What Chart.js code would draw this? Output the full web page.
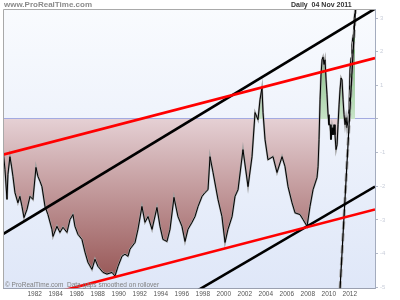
<!DOCTYPE html>
<html>
<head>
<meta charset="utf-8">
<script src="https://cdn.jsdelivr.net/npm/chart.js@4/dist/chart.umd.min.js"></script>
<style>
  html, body { margin: 0; padding: 0; background: #fff; }
  canvas { display: block; }
</style>
</head>
<body>
<canvas id="spreadChart" width="400" height="300"></canvas>
<script>
// daily series (year, value)
const years = [
  1978.29, 1978.48, 1978.67, 1978.76, 1978.95, 1979.10, 1979.24, 1979.43, 1979.71, 1979.90,
  1980.10, 1980.29, 1980.57, 1980.86, 1981.14, 1981.43, 1981.62, 1981.81, 1982.00, 1982.29,
  1982.57, 1982.95, 1983.05, 1983.43, 1983.71, 1984.00, 1984.38, 1984.67, 1984.95, 1985.14,
  1985.43, 1985.81, 1986.10, 1986.38, 1986.76, 1987.05, 1987.33, 1987.81, 1988.19, 1988.67,
  1988.95, 1989.24, 1989.62, 1989.90, 1990.19, 1990.38, 1990.86, 1991.14, 1991.52, 1991.81,
  1992.10, 1992.48, 1992.95, 1993.24, 1993.52, 1993.90, 1994.19, 1994.57, 1994.95, 1995.33,
  1995.62, 1995.90, 1996.29, 1996.57, 1996.86, 1997.24, 1997.52, 1997.81, 1998.00, 1998.29,
  1998.76, 1999.14, 1999.43, 1999.71, 2000.10, 2000.38, 2000.67, 2001.14, 2001.62, 2002.00,
  2002.29, 2002.57, 2002.76, 2002.95, 2003.05, 2003.24, 2003.52, 2004.00, 2004.38, 2004.86,
  2005.14, 2005.43, 2005.81, 2006.10, 2006.57, 2006.86, 2007.24, 2007.52, 2007.81, 2008.19,
  2008.29, 2008.38, 2008.48, 2008.57, 2008.67, 2008.76, 2008.86, 2008.95, 2009.05, 2009.14,
  2009.24, 2009.33, 2009.43, 2009.52, 2009.62, 2009.71, 2009.81, 2009.90, 2010.00, 2010.10,
  2010.19, 2010.29, 2010.38, 2010.48, 2010.57, 2010.67, 2010.76, 2010.86, 2010.95, 2011.05,
  2011.14, 2011.24, 2011.33, 2011.43, 2011.52, 2011.62, 2011.71, 2011.81
];
const values = [
  -0.91, -1.50, -2.39, -1.65, -1.12, -1.40, -1.71, -2.19, -2.49, -2.30,
  -2.60, -2.93, -2.69, -2.30, -2.39, -1.44, -1.71, -1.85, -2.01, -2.60,
  -2.84, -3.28, -3.49, -3.19, -3.37, -3.22, -3.37, -2.99, -2.84, -3.19,
  -3.43, -3.58, -3.96, -4.26, -4.47, -4.17, -4.38, -4.56, -4.61, -4.56,
  -4.67, -4.38, -4.08, -4.02, -4.08, -3.87, -3.67, -3.28, -2.60, -3.07,
  -2.90, -3.28, -2.63, -3.19, -3.58, -3.64, -3.28, -2.33, -2.90, -3.19,
  -3.64, -3.28, -3.07, -2.90, -2.60, -2.30, -2.19, -2.10, -1.12, -1.59,
  -2.39, -2.90, -3.67, -3.28, -2.90, -2.30, -2.10, -0.91, -2.01, -1.12,
  0.19, -0.02, 0.57, 0.93, 0.19, -0.61, -1.21, -1.12, -1.59, -1.12,
  -1.41, -2.01, -2.49, -2.79, -2.84, -2.99, -3.19, -2.60, -2.10, -1.74,
  -1.41, -0.61, 0.57, 1.31, 1.76, 1.84, 1.62, 1.76, 1.16, 0.72,
  0.13, -0.17, -0.17, -0.61, -0.26, -0.47, -0.17, -0.47, -0.91, -0.76,
  -0.17, 0.42, 0.87, 1.22, 1.16, 0.57, 0.13, -0.17, 0.04, -0.26,
  -0.02, 0.27, 1.46, 1.81, 2.20, 2.49, 2.94, 3.18
];

// trend lines drawn on the chart (two end points each)
const lineEnds = [1978.29, 2013.71];
const redTop = [-1.06, 1.81];
const redLow = [-5.56, -2.69];
const blackTop = [-3.42, 3.28];
const blackLow = [-8.48, -2.01];
const steepYears = [2010.38, 2011.90];
const steepValues = [-5.06, 3.53];

const yearTicks = [1982, 1984, 1986, 1988, 1990, 1992, 1994, 1996, 1998, 2000, 2002, 2004, 2006, 2008, 2010, 2012];
const valueTicks = [3, 2, 1, 0, -1, -2, -3, -4, -5];

function points(xs, ys) {
    return xs.map((x, i) => ({ x, y: ys[i] }));
}

function areaGradient(context) {
    const chart = context.chart;
    const area = chart.chartArea;
    if (!area) return null;
    const y = chart.scales.y;
    const zero = (y.getPixelForValue(0) - area.top) / (area.bottom - area.top);
    const g = chart.ctx.createLinearGradient(0, area.top, 0, area.bottom);
    g.addColorStop(0, '#58a458');
    g.addColorStop(zero, '#c8e4c8');
    g.addColorStop(zero, '#e5d0d4');
    g.addColorStop(1, '#93504f');
    return g;
}

function trend(ys, color) {
    return {
        data: points(lineEnds, ys),
        borderColor: color,
        borderWidth: 2.6,
        pointRadius: 0,
        fill: false,
        clip: 0
    };
}

const frame = {
    id: 'frame',
    beforeDraw(chart) {
        const { ctx, chartArea: a } = chart;
        const g = ctx.createLinearGradient(0, a.top, 0, a.bottom);
        g.addColorStop(0, '#f9fbfe');
        g.addColorStop(1, '#dfe7f8');
        ctx.save();
        ctx.fillStyle = g;
        ctx.fillRect(a.left, a.top, a.right - a.left, a.bottom - a.top);
        ctx.restore();
    },
    afterDraw(chart) {
        const { ctx, chartArea: a } = chart;
        ctx.save();
        ctx.strokeStyle = '#a9a9a9';
        ctx.lineWidth = 1;
        ctx.beginPath();
        ctx.moveTo(a.left + 0.5, a.bottom);
        ctx.lineTo(a.left + 0.5, a.top + 0.5);
        ctx.lineTo(a.right, a.top + 0.5);
        ctx.stroke();

        ctx.textBaseline = 'middle';
        ctx.font = 'bold 8px "Liberation Sans", Arial, sans-serif';
        ctx.fillStyle = '#8a8a8a';
        ctx.fillText('www.ProRealTime.com', 4, 5);
        ctx.font = 'bold 7px "Liberation Sans", Arial, sans-serif';
        ctx.fillStyle = '#333';
        ctx.fillText('Daily  04 Nov 2011', 291, 5);
        ctx.font = '6.5px "Liberation Sans", Arial, sans-serif';
        ctx.fillStyle = '#808080';
        ctx.fillText('\u00a9 ProRealTime.com  Data gaps smoothed on rollover', a.left + 2, a.bottom - 3);
        ctx.restore();
    }
};

new Chart(document.getElementById('spreadChart'), {
    type: 'line',
    data: {
        datasets: [
            trend(redTop, '#ff0000'),
            trend(redLow, '#ff0000'),
            trend(blackTop, '#000000'),
            trend(blackLow, '#000000'),
            {
                data: points(steepYears, steepValues),
                borderColor: '#000',
                borderWidth: 1.2,
                pointRadius: 0,
                fill: false,
                clip: 0
            },
            {
                data: points(steepYears, steepValues),
                borderColor: '#a8a8a8',
                borderWidth: 3,
                borderDash: [8, 4],
                pointRadius: 0,
                fill: false,
                clip: 0
            },
            {
                data: points(years, values),
                borderColor: '#000',
                borderWidth: 1,
                pointRadius: 0,
                tension: 0,
                fill: false,
                clip: 0
            },
            {
                data: points(years, values),
                borderColor: '#a0a0a0',
                borderWidth: 2,
                pointRadius: 0,
                tension: 0,
                backgroundColor: areaGradient,
                fill: { target: { value: 0 } },
                clip: 0
            }
        ]
    },
    options: {
        responsive: false,
        animation: false,
        devicePixelRatio: 1,
        layout: { padding: { left: 3, top: 9, right: 0, bottom: 0 } },
        plugins: { legend: { display: false }, tooltip: { enabled: false } },
        scales: {
            x: {
                type: 'linear',
                min: 1978.29,
                max: 2013.71,
                border: { display: true, color: '#9aa0b0' },
                grid: { display: false, drawTicks: false },
                afterBuildTicks: scale => { scale.ticks = yearTicks.map(v => ({ value: v })); },
                ticks: {
                    align: 'end',
                    padding: 2,
                    autoSkip: false,
                    maxRotation: 0,
                    color: '#555',
                    font: { size: 6.5, family: '"Liberation Sans", Arial, sans-serif' },
                    callback: v => String(v)
                }
            },
            y: {
                position: 'right',
                min: -5.03,
                max: 3.27,
                border: { display: true, color: '#a4acbe' },
                grid: {
                    color: ctx => ctx.tick && ctx.tick.value === 0 ? '#a3aae0' : 'transparent',
                    tickColor: '#b4bac8',
                    tickLength: 3
                },
                afterBuildTicks: scale => { scale.ticks = valueTicks.map(v => ({ value: v })); },
                afterFit: scale => { scale.width = 25; },
                ticks: {
                    padding: 2,
                    color: '#c9ceda',
                    font: { size: 6, family: '"Liberation Sans", Arial, sans-serif' },
                    callback: v => v === 0 ? '' : String(v)
                }
            }
        }
    },
    plugins: [frame]
});
</script>
</body>
</html>
